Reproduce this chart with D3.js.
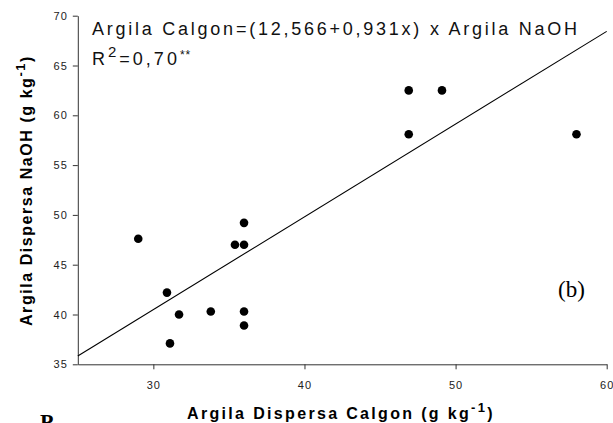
<!DOCTYPE html>
<html>
<head>
<meta charset="utf-8">
<script src="https://cdn.jsdelivr.net/npm/d3@7"></script>
<style>
  body { margin: 0; background: #fff; }
  text { font-family: "Liberation Sans", Arial, sans-serif; }
</style>
</head>
<body>
<div id="wrapper"></div>
<script>
// data
const calgon = [29.0, 30.9, 31.7, 31.1, 33.8, 36.0, 36.0, 35.4, 36.0, 36.0, 46.9, 49.1, 46.9, 58.0];
const naoh   = [47.6, 42.2, 40.0, 37.1, 40.3, 40.3, 38.9, 47.0, 47.0, 49.2, 62.5, 62.5, 58.1, 58.1];
const xTicks = [30, 40, 50, 60];
const yTicks = [35, 40, 45, 50, 55, 60, 65, 70];
const intercept = 12.566;
const slope = 0.931;

const dataset = calgon.map((c, i) => ({ x: c, y: naoh[i] }));

let dimensions = {
  width: 613,
  height: 423,
  margin: { top: 15.7, right: 6.3, bottom: 58.7, left: 77.8 },
};
dimensions.boundedWidth = dimensions.width - dimensions.margin.left - dimensions.margin.right;
dimensions.boundedHeight = dimensions.height - dimensions.margin.top - dimensions.margin.bottom;

const wrapper = d3.select("#wrapper")
  .append("svg")
  .attr("width", dimensions.width)
  .attr("height", dimensions.height);

const bounds = wrapper.append("g")
  .attr("transform", `translate(${dimensions.margin.left},${dimensions.margin.top})`);

const xScale = d3.scaleLinear().domain([25, 60]).range([0, dimensions.boundedWidth]);
const yScale = d3.scaleLinear().domain([35, 70]).range([dimensions.boundedHeight, 0]);

// axes
const xAxis = bounds.append("g")
  .attr("transform", `translate(0,${dimensions.boundedHeight})`)
  .call(d3.axisBottom(xScale).tickValues(xTicks).tickSize(5).tickPadding(12).tickSizeOuter(0));
const yAxis = bounds.append("g")
  .call(d3.axisLeft(yScale).tickValues(yTicks).tickSize(5).tickPadding(5).tickSizeOuter(0));

[xAxis, yAxis].forEach(ax => {
  ax.select(".domain").attr("stroke", "#333");
  ax.selectAll(".tick line").attr("stroke", "#333");
  ax.selectAll(".tick text")
    .attr("fill", "#222")
    .style("font-size", "11px")
    .style("letter-spacing", "1px")
    .style("font-family", "Liberation Sans, Arial, sans-serif");
});

// regression line
const lineGenerator = d3.line()
  .x(d => xScale(d))
  .y(d => yScale(intercept + slope * d));
bounds.append("path")
  .attr("d", lineGenerator([25, 60]))
  .attr("fill", "none")
  .attr("stroke", "#000")
  .attr("stroke-width", 1.1);

// points
bounds.selectAll("circle")
  .data(dataset)
  .enter()
  .append("circle")
  .attr("cx", d => xScale(d.x))
  .attr("cy", d => yScale(d.y))
  .attr("r", 4.3)
  .attr("fill", "#000");

// equation
wrapper.append("text")
  .attr("x", 92)
  .attr("y", 35)
  .attr("textLength", 485)
  .attr("lengthAdjust", "spacing")
  .style("font-size", "18px")
  .attr("fill", "#111")
  .text("Argila Calgon=(12,566+0,931x) x Argila NaOH");

const r2 = wrapper.append("text")
  .attr("x", 92)
  .attr("y", 65)
  .style("font-size", "18px")
  .style("letter-spacing", "3px")
  .attr("fill", "#111");
r2.append("tspan").text("R");
r2.append("tspan").attr("dy", -8).style("font-size", "15px").text("2");
r2.append("tspan").attr("dy", 8).text("=0,70");
r2.append("tspan").attr("dy", -6).style("font-size", "12px").style("letter-spacing", "1px").text("**");

// panel label
wrapper.append("text")
  .attr("x", 558)
  .attr("y", 297)
  .style("font-family", "Liberation Serif, Times New Roman, serif")
  .style("font-size", "23px")
  .attr("fill", "#000")
  .text("(b)");

// stretch a title to the span it has in the picture
function fitSpacing(sel, target) {
  const node = sel.node();
  const n = node.textContent.length;
  const w = node.getComputedTextLength();
  const ls = parseFloat(sel.style("letter-spacing")) || 0;
  sel.style("letter-spacing", (ls + (target - w) / n) + "px");
}

// x axis title
const xTitle = wrapper.append("text")
  .attr("x", 187)
  .attr("y", 419)
  .style("font-size", "16px")
  .style("font-weight", "bold")
  .style("letter-spacing", "0px")
  .attr("fill", "#000");
xTitle.append("tspan").text("Argila Dispersa Calgon (g kg");
xTitle.append("tspan").attr("dy", -7).style("font-size", "13px").text("-1");
xTitle.append("tspan").attr("dy", 7).text(")");
fitSpacing(xTitle, 308);

// y axis title
const yTitle = wrapper.append("text")
  .attr("transform", "translate(32,326) rotate(-90)")
  .style("font-size", "16px")
  .style("font-weight", "bold")
  .style("letter-spacing", "0px")
  .attr("fill", "#000");
yTitle.append("tspan").text("Argila Dispersa NaOH (g kg");
yTitle.append("tspan").attr("dy", -7).style("font-size", "13px").text("-1");
yTitle.append("tspan").attr("dy", 7).text(")");
fitSpacing(yTitle, 271);

// cut-off letter of the next panel
wrapper.append("text")
  .attr("x", 40)
  .attr("y", 429)
  .style("font-family", "Liberation Serif, Times New Roman, serif")
  .style("font-size", "22px")
  .style("font-weight", "bold")
  .attr("fill", "#000")
  .text("P");
</script>
</body>
</html>
